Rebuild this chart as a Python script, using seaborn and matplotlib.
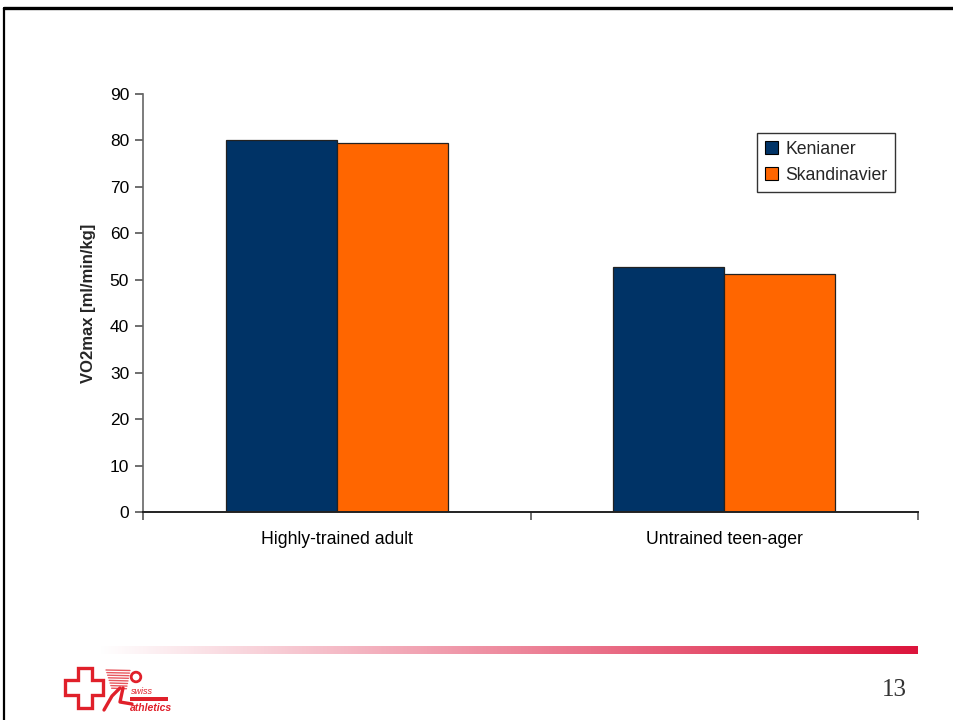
import numpy as np
import pandas as pd
import matplotlib
matplotlib.use("Agg")
import matplotlib.pyplot as plt
import seaborn as sns
from matplotlib.patches import Polygon, Rectangle
from matplotlib.lines import Line2D

# Data
categories = ["Highly-trained adult", "Untrained teen-ager"]
groups = ["Kenianer", "Skandinavier"]
kenianer = [80.0, 52.7]
skandinavier = [79.4, 51.3]
yticks = [0, 10, 20, 30, 40, 50, 60, 70, 80, 90]

df = pd.DataFrame({
    "category": categories * 2,
    "group": [groups[0]] * 2 + [groups[1]] * 2,
    "value": kenianer + skandinavier,
})

sns.set_theme(style="white")
plt.rcParams["font.family"] = ["Liberation Sans", "DejaVu Sans"]

W, H = 954, 720
fig = plt.figure(figsize=(W / 100, H / 100), dpi=100)
fig.patch.set_facecolor("white")

ax = fig.add_axes([143 / W, (H - 512) / H, (918 - 143) / W, (512 - 94) / H])
palette = {"Kenianer": "#003366", "Skandinavier": "#FF6600"}
sns.barplot(data=df, x="category", y="value", hue="group", order=categories,
            hue_order=groups, palette=palette, width=0.573, gap=0,
            edgecolor="#222222", linewidth=0.9, saturation=1, ax=ax, errorbar=None)

ax.set_ylim(0, 90)
ax.set_xlim(-0.5, 1.5)
ax.set_yticks(yticks)
ax.set_yticklabels([str(t) for t in yticks], fontsize=12.5, color="black")
ax.set_xticks([-0.5, 0.5, 1.5], minor=False)
ax.set_xticklabels([])
ax.tick_params(axis="x", which="major", direction="out", length=6, width=1.2,
               color="#555555", bottom=True)
ax.set_xticks([0, 1], minor=True)
ax.set_xticklabels(categories, minor=True, fontsize=12.7, color="black")
ax.tick_params(axis="x", which="minor", length=0, pad=14)
ax.tick_params(axis="y", direction="out", length=6, width=1.2, color="#555555",
               left=True, pad=4)
ax.set_xlabel("")
ax.set_ylabel("VO2max [ml/min/kg]", fontsize=12, fontweight="bold", labelpad=10)
for side in ["top", "right"]:
    ax.spines[side].set_visible(False)
ax.spines["left"].set_color("#666666")
ax.spines["left"].set_linewidth(1.2)
ax.spines["bottom"].set_color("#222222")
ax.spines["bottom"].set_linewidth(1.4)
ax.grid(False)

leg = ax.legend(loc="upper left", bbox_to_anchor=((757 - 143) / 775, (512 - 133) / 418),
                frameon=True, fancybox=False, shadow=False, fontsize=12.7,
                handlelength=0.75, handleheight=0.75, handletextpad=0.4,
                borderpad=0.45, labelspacing=0.5, borderaxespad=0)
leg.get_frame().set_edgecolor("black")
leg.get_frame().set_linewidth(1.0)
for h in leg.legend_handles:
    h.set_edgecolor("black")
    h.set_linewidth(0.8)

# Slide frame: top rule and left rule
fig.add_artist(Line2D([4 / W, 1], [1 - 8 / H, 1 - 8 / H], color="black", lw=2.4))
fig.add_artist(Line2D([4.5 / W, 4.5 / W], [0, 1 - 8 / H], color="black", lw=1.6))

# Footer gradient rule, white to red
gax = fig.add_axes([100 / W, (H - 654) / H, (918 - 100) / W, 8 / H])
grad = np.linspace(0, 1, 512)
red = np.array([220, 20, 60]) / 255.0
img = np.ones((1, 512, 3)) * (1 - grad[None, :, None]) + red[None, None, :] * grad[None, :, None]
gax.imshow(img, aspect="auto", extent=[0, 1, 0, 1])
gax.set_axis_off()

# Page number
fig.text(894 / W, (H - 690) / H, "13", fontsize=18, family=["Liberation Serif", "DejaVu Serif"],
         color="#333333", ha="center", va="center")

# Logo: outlined cross, runner stripes and wordmark
lax = fig.add_axes([60 / W, (H - 716) / H, 115 / W, 52 / H])
lax.set_xlim(0, 115)
lax.set_ylim(0, 52)
lax.set_axis_off()
logo_red = "#E0202A"
cross = [(5, 21), (18, 21), (18, 8), (32, 8), (32, 21), (43, 21), (43, 36), (32, 36),
         (32, 48), (18, 48), (18, 36), (5, 36)]
lax.add_patch(Polygon(cross, closed=True, fill=False, edgecolor=logo_red, lw=2.4))
for i in range(8):
    y0 = 46 - i * 2.6
    lax.add_line(Line2D([46 + i * 0.8, 70 - i * 0.5], [y0, y0 - 0.5], color=logo_red,
                        lw=1.0, alpha=0.75))
lax.add_patch(plt.Circle((76, 39), 4.8, fill=False, edgecolor=logo_red, lw=2))
lax.add_line(Line2D([44, 52, 60], [6, 20, 28], color=logo_red, lw=2.4))
lax.add_line(Line2D([63, 60, 72], [28, 14, 12], color=logo_red, lw=2.4))
lax.add_patch(Rectangle((70, 15), 38, 4.5, color=logo_red, lw=0))
lax.text(71, 19.5, "swiss", fontsize=6.5, color=logo_red, style="italic", va="bottom")
lax.text(70, 8, "athletics", fontsize=7.5, color=logo_red, style="italic",
         fontweight="bold", va="center")

fig.savefig("out.png", dpi=100, facecolor="white")
